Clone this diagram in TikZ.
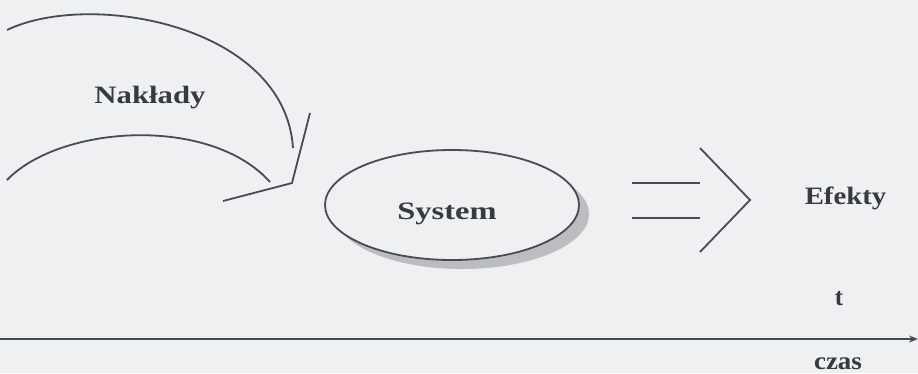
\documentclass[tikz,border=0pt]{standalone}
\usepackage{fontspec}
\setmainfont{Liberation Serif}
\usetikzlibrary{shapes.geometric,shadows,arrows.meta}
\definecolor{bg}{HTML}{EEF0F2}
\definecolor{ink}{HTML}{464C54}
\definecolor{txt}{HTML}{353B43}
\tikzset{
  ln/.style={draw=ink, line width=1.8pt},
  lbl/.style={font=\bfseries\fontsize{25}{28}\selectfont, text=txt, anchor=base, inner sep=0pt},
}
\begin{document}
\begin{tikzpicture}[x=1pt,y=-1pt]
\fill[bg] (0,0) rectangle (918,373);
\useasboundingbox (0,0) rectangle (918,373);
% input arcs
\coordinate (a1s) at (7,30);
\coordinate (a1e) at (293,148);
\coordinate (a2s) at (7,180);
\coordinate (a2e) at (270,182);
\draw[ln] (a1s) .. controls (90,-10) and (285,25) .. (a1e);
\draw[ln] (a2s) .. controls (60,125) and (210,115) .. (a2e);
% open arrow head
\coordinate (h1) at (310,113);
\coordinate (hv) at (292,183);
\coordinate (h2) at (223,201);
\draw[ln, line join=miter] (h1) -- (hv) -- (h2);
\node[lbl] (nak) at (150,103) {\scalebox{1.23}[1]{Nakłady}};
% system ellipse
\node[ellipse, draw=ink, line width=1.8pt, fill=bg, minimum width=254pt, minimum height=110pt,
      drop shadow={shadow xshift=10pt, shadow yshift=-9pt, fill=black!45}] (sys) at (452,205) {};
\node[lbl] (systxt) at (447,219) {\scalebox{1.3}[1]{System}};
% output
\coordinate (d1s) at (632,183);
\coordinate (d1e) at (700,183);
\coordinate (d2s) at (632,218);
\coordinate (d2e) at (700,218);
\draw[draw=ink, line width=2.8pt] (d1s) -- (d1e);
\draw[draw=ink, line width=2.8pt] (d2s) -- (d2e);
\coordinate (c1) at (700,148);
\coordinate (cv) at (750,200);
\coordinate (c2) at (700,252);
\draw[ln, line join=miter] (c1) -- (cv) -- (c2);
\node[lbl] (ef) at (845.5,204) {\scalebox{1.15}[1]{Efekty}};
% time axis
\coordinate (ax0) at (0,339);
\coordinate (ax1) at (918,339);
\draw[ln, -{Stealth[length=9pt,width=7pt]}] (ax0) -- (ax1);
\node[lbl] (t) at (839,305) {t};
\node[lbl] (cz) at (838,369) {\scalebox{1.08}[1]{czas}};
\end{tikzpicture}
\end{document}
